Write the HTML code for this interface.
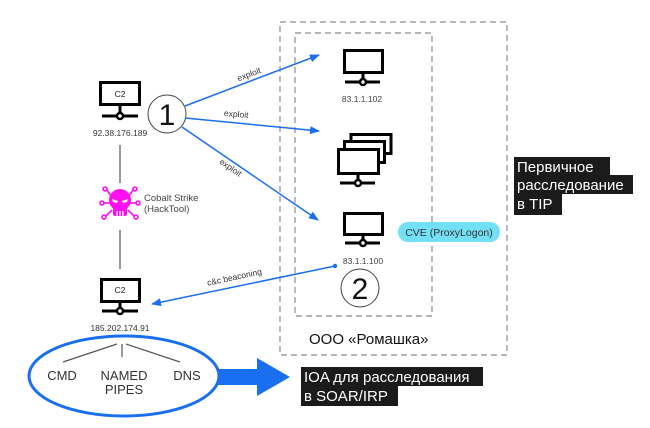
<!DOCTYPE html>
<html><head><meta charset="utf-8">
<style>
html,body{margin:0;padding:0;background:#fff;}
body{width:650px;height:423px;overflow:hidden;font-family:"Liberation Sans",sans-serif;}
svg text{font-family:"Liberation Sans",sans-serif;}
</style></head>
<body>
<svg width="650" height="423" viewBox="0 0 650 423" xmlns="http://www.w3.org/2000/svg">
<defs>
<marker id="ah" markerWidth="10" markerHeight="8" refX="9" refY="4" orient="auto" markerUnits="userSpaceOnUse">
<path d="M0,0 L10,4 L0,8 Z" fill="#1a6ff0"/>
</marker>
</defs>

<!-- dashed boxes -->
<rect x="280" y="22" width="227" height="333" fill="none" stroke="#8a8a95" stroke-width="1.2" stroke-dasharray="6 4"/>
<rect x="295" y="33" width="137" height="283" fill="none" stroke="#8a8a95" stroke-width="1.2" stroke-dasharray="6 4"/>

<!-- C2 monitor 1 -->
<g stroke="#000" fill="#fff">
<rect x="100.5" y="82.5" width="39" height="22" stroke-width="3"/>
<line x1="120" y1="104" x2="120" y2="113" stroke-width="3"/>
<line x1="102" y1="116" x2="138" y2="116" stroke-width="3"/>
<circle cx="120" cy="116" r="3" stroke-width="2.5"/>
</g>
<text x="120" y="97" font-size="8.5" text-anchor="middle" fill="#222">C2</text>
<text x="120" y="136" font-size="8.5" text-anchor="middle" fill="#333">92.38.176.189</text>

<!-- circle 1 -->
<circle cx="167" cy="114" r="19" fill="#fff" stroke="#444" stroke-width="1"/>
<text x="167" y="125" font-size="30" text-anchor="middle" fill="#111" font-weight="300">1</text>

<!-- vertical lines -->
<line x1="120" y1="145" x2="120" y2="183" stroke="#555" stroke-width="1.2"/>
<line x1="120" y1="230" x2="120" y2="269" stroke="#555" stroke-width="1.2"/>

<!-- Cobalt strike icon -->
<g stroke="#ff10ee" stroke-width="1.6" fill="#fff">
<line x1="111" y1="196" x2="107" y2="190"/>
<line x1="110" y1="203" x2="104" y2="203"/>
<line x1="112" y1="210" x2="106" y2="216"/>
<line x1="129" y1="196" x2="133" y2="190"/>
<line x1="130" y1="203" x2="136" y2="203"/>
<line x1="128" y1="210" x2="134" y2="216"/>
<circle cx="105" cy="189" r="2"/>
<circle cx="102" cy="203" r="2"/>
<circle cx="104" cy="217" r="2"/>
<circle cx="135" cy="189" r="2"/>
<circle cx="138" cy="203" r="2"/>
<circle cx="136" cy="217" r="2"/>
</g>
<g fill="#ff10ee">
<circle cx="120" cy="200" r="11"/>
<rect x="113" y="205" width="14" height="11" rx="2"/>
</g>
<g fill="#fff">
<path d="M112,199 L118,201 L117,203 L113,202 Z"/>
<path d="M128,199 L122,201 L123,203 L127,202 Z"/>
<rect x="116.5" y="211" width="1.2" height="5"/>
<rect x="119.4" y="211" width="1.2" height="5"/>
<rect x="122.3" y="211" width="1.2" height="5"/>
</g>
<text x="144" y="201" font-size="9.5" fill="#444">Cobalt Strike</text>
<text x="144" y="212" font-size="9.5" fill="#444">(HackTool)</text>

<!-- C2 monitor 2 -->
<g stroke="#000" fill="#fff">
<rect x="101.5" y="279.5" width="38" height="22" stroke-width="3"/>
<line x1="120" y1="301" x2="120" y2="308" stroke-width="3"/>
<line x1="102" y1="311" x2="138" y2="311" stroke-width="3"/>
<circle cx="120" cy="311" r="3" stroke-width="2.5"/>
</g>
<text x="120" y="293" font-size="8.5" text-anchor="middle" fill="#222">C2</text>
<text x="120" y="331" font-size="8.5" text-anchor="middle" fill="#333">185.202.174.91</text>

<!-- Monitor 83.1.1.102 -->
<g stroke="#000" fill="#fff">
<rect x="344.5" y="50.5" width="38" height="22" stroke-width="3"/>
<line x1="363" y1="72" x2="363" y2="79" stroke-width="3"/>
<line x1="345" y1="82" x2="380" y2="82" stroke-width="3"/>
<circle cx="363" cy="82" r="3" stroke-width="2.5"/>
</g>
<text x="362" y="102" font-size="8.5" text-anchor="middle" fill="#444">83.1.1.102</text>

<!-- stacked monitors -->
<g stroke="#000" fill="#fff" stroke-width="3">
<rect x="351" y="134.5" width="40" height="19"/>
<rect x="344.5" y="141.5" width="40" height="21"/>
<rect x="338.5" y="149.5" width="40" height="24"/>
<line x1="358" y1="174" x2="358" y2="180"/>
<line x1="340" y1="183" x2="375" y2="183"/>
<circle cx="358" cy="183" r="3" stroke-width="2.5"/>
</g>

<!-- Monitor 83.1.1.100 -->
<g stroke="#000" fill="#fff">
<rect x="344.5" y="213.5" width="38" height="21" stroke-width="3"/>
<line x1="363" y1="234" x2="363" y2="240" stroke-width="3"/>
<line x1="345" y1="243" x2="380" y2="243" stroke-width="3"/>
<circle cx="363" cy="243" r="3" stroke-width="2.5"/>
</g>
<text x="363" y="264" font-size="8.5" text-anchor="middle" fill="#444">83.1.1.100</text>

<!-- circle 2 -->
<circle cx="360" cy="288" r="19" fill="#fff" stroke="#444" stroke-width="1"/>
<text x="360" y="299" font-size="30" text-anchor="middle" fill="#111" font-weight="300">2</text>

<!-- CVE pill -->
<rect x="398" y="222" width="102" height="20" rx="10" fill="#72e0f7"/>
<text x="449" y="236" font-size="10.5" text-anchor="middle" fill="#333">CVE (ProxyLogon)</text>

<!-- OOO -->
<text x="309" y="344" font-size="15" fill="#111">ООО «Ромашка»</text>

<!-- arrows -->
<g stroke="#1a6ff0" stroke-width="1.5" fill="none">
<line x1="185" y1="106" x2="319" y2="55" marker-end="url(#ah)"/>
<line x1="185" y1="118" x2="319" y2="131" marker-end="url(#ah)"/>
<line x1="182" y1="127" x2="318" y2="220" marker-end="url(#ah)"/>
<line x1="335" y1="266" x2="152" y2="304" marker-end="url(#ah)"/>
</g>
<circle cx="335" cy="266" r="2.2" fill="#1a6ff0"/>

<text font-size="8.5" fill="#333" text-anchor="middle" transform="translate(250,77) rotate(-21)">exploit</text>
<text font-size="8.5" fill="#333" text-anchor="middle" transform="translate(236,117) rotate(5)">exploit</text>
<text font-size="8.5" fill="#333" text-anchor="middle" transform="translate(229,170) rotate(34)">exploit</text>
<text font-size="8.5" fill="#333" text-anchor="middle" transform="translate(235,280) rotate(-12)">c&amp;c beaconing</text>

<!-- ellipse -->
<ellipse cx="124" cy="376" rx="95" ry="40" fill="none" stroke="#1a6ff0" stroke-width="3"/>
<g stroke="#555" stroke-width="1.2">
<line x1="117" y1="344" x2="63" y2="362"/>
<line x1="122" y1="344" x2="122" y2="357"/>
<line x1="126" y1="344" x2="180" y2="362"/>
</g>
<text x="62" y="380" font-size="13" text-anchor="middle" fill="#333">CMD</text>
<text x="124" y="380" font-size="13" text-anchor="middle" fill="#333">NAMED</text>
<text x="124" y="394" font-size="13" text-anchor="middle" fill="#333">PIPES</text>
<text x="187" y="380" font-size="13" text-anchor="middle" fill="#333">DNS</text>

<!-- big arrow -->
<path d="M218,369 L257,369 L257,358 L290,377 L257,396 L257,385 L218,385 Z" fill="#1a6ff0"/>

<!-- IOA label -->
<rect x="301" y="367" width="182" height="19" fill="#1b1b1b"/>
<rect x="301" y="385" width="97" height="21" fill="#1b1b1b"/>
<text x="304" y="382" font-size="15" fill="#fff">IOA для расследования</text>
<text x="304" y="401" font-size="15" fill="#fff">в SOAR/IRP</text>

<!-- TIP label -->
<rect x="514" y="157" width="96" height="19" fill="#1b1b1b"/>
<rect x="514" y="175" width="119" height="19" fill="#1b1b1b"/>
<rect x="514" y="193" width="48" height="22" fill="#1b1b1b"/>
<text x="517" y="172" font-size="15" fill="#fff">Первичное</text>
<text x="517" y="190" font-size="15" fill="#fff">расследование</text>
<text x="517" y="209" font-size="15" fill="#fff">в TIP</text>
</svg>
</body></html>
